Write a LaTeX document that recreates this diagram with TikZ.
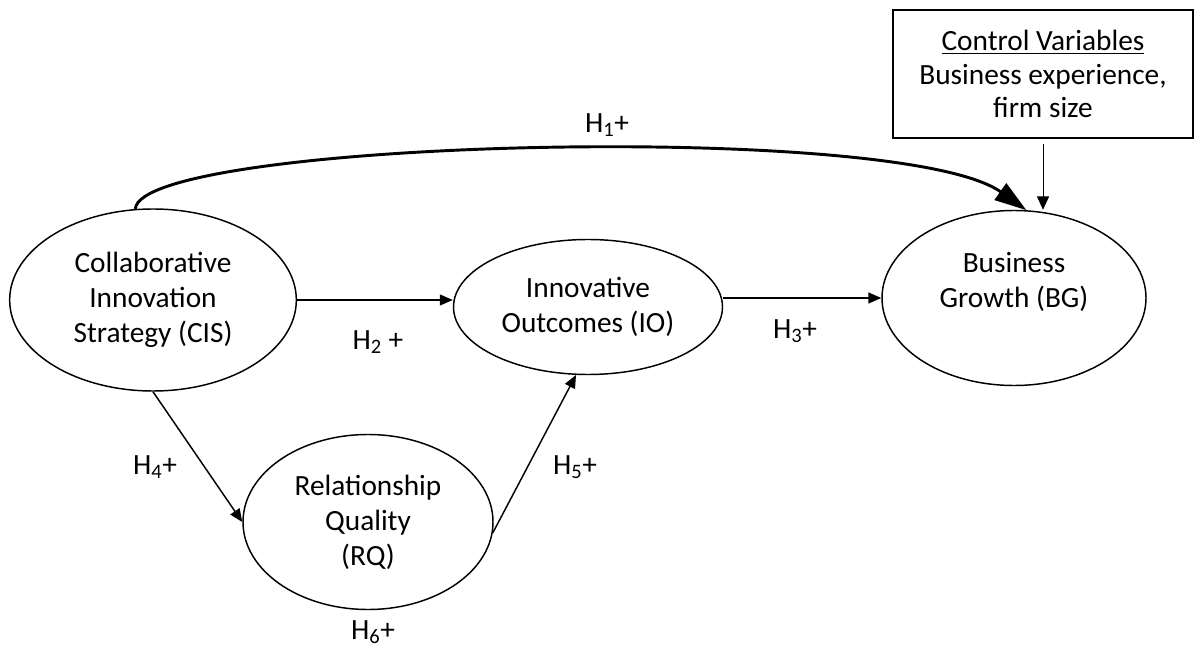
\documentclass[tikz,border=0pt]{standalone}
\usepackage{fontspec}
\setmainfont{Carlito}
\usetikzlibrary{arrows.meta,shapes.geometric,positioning}

\begin{document}
\begin{tikzpicture}[x=0.75pt, y=-0.75pt,
  >={Triangle[length=9.75pt,width=8.25pt]},
  var/.style={draw, ellipse, line width=1.1pt, inner sep=0pt, align=center,
    font=\fontsize{22}{26.25}\selectfont},
  hyp/.style={font=\fontsize{22}{26.25}\selectfont},
  link/.style={->, line width=1.1pt}]
\useasboundingbox (0,0) rectangle (1195,648);

\node[var, minimum width=215pt, minimum height=136.5pt] (cis) at (153,300)
  {Collaborative\\Innovation\\Strategy (CIS)};
\node[var, minimum width=201.75pt, minimum height=101.25pt] (io) at (588,307)
  {Innovative\\Outcomes (IO)};
\node[var, minimum width=198pt, minimum height=131.25pt,
  label={[name=bgtxt, hyp, align=center, yshift=12pt]center:Business\\Growth (BG)}]
  (bg) at (1014,298) {};
\node[var, minimum width=187.5pt, minimum height=131.25pt] (rq) at (368,522)
  {Relationship\\Quality\\(RQ)};
\node[draw, line width=0.9pt, inner sep=0pt, minimum width=225pt, minimum height=96pt,
  align=center, font=\fontsize{22}{25}\selectfont] (ctrl) at (1043,74)
  {\underline{Control Variables}\\Business experience,\\firm size};

% hypothesis labels
\node[hyp] (h1) at (607,125) {H\textsubscript{1}+};
\node[hyp] (h2) at (378,342) {H\textsubscript{2} +};
\node[hyp] (h3) at (795,331) {H\textsubscript{3}+};
\node[hyp] (h4) at (155,467) {H\textsubscript{4}+};
\node[hyp] (h5) at (575,467) {H\textsubscript{5}+};
\node[hyp] (h6) at (373,632) {H\textsubscript{6}+};

\draw[->, line width=2.2pt, >={Triangle[length=24pt,width=15pt]}]
  (cis.101) .. controls (140,140) and (900,120) .. (bg.82);
\draw[link] (cis.east) -- (cis.east -| io.west);
\draw[link] (io.east |- bg.west) -- (bg.west);
\draw[link] (cis.south) -- (rq.west);
\draw[link] (rq.-5) -- (io.260);
\draw[->, line width=0.75pt, >={Triangle[length=10pt,width=9pt]}]
  ([yshift=-3.75pt]ctrl.south) -- (ctrl.south |- bg.north);
\end{tikzpicture}
\end{document}
